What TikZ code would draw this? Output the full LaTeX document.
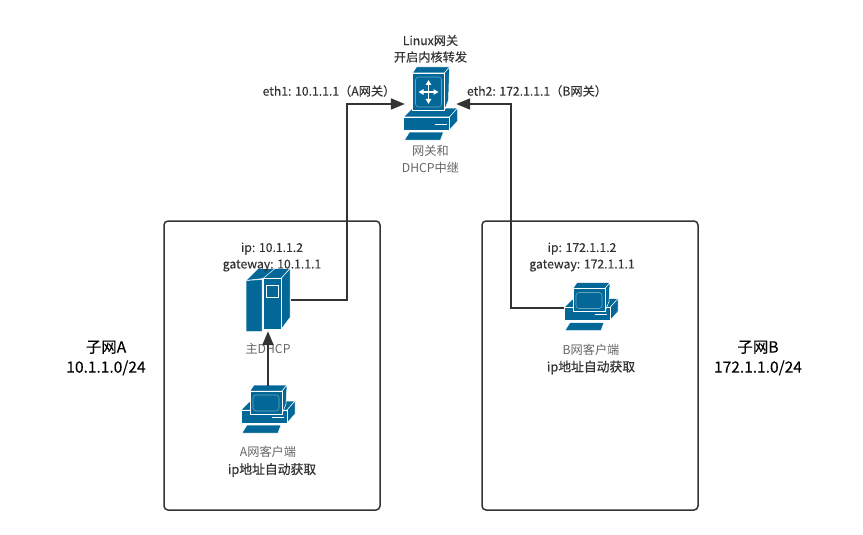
\documentclass[tikz,border=0pt]{standalone}
\usepackage{fontspec}
\setmainfont{Noto Sans CJK SC}
\usetikzlibrary{positioning,arrows.meta}

\definecolor{iconblue}{HTML}{036897}
\definecolor{linedark}{HTML}{333333}
\definecolor{textlight}{HTML}{666666}

\begin{document}
\begin{tikzpicture}[
  x=1pt, y=-1pt,
  subnetbox/.style={draw=linedark, line width=1.5pt, rounded corners=4pt},
  iconbox/.style={inner sep=0, minimum width=#1},
  iconbox/.default=46pt,
  darktext/.style={text=linedark, align=center, inner sep=0, font=\fontsize{12.2}{16.5}\selectfont\addfontfeature{FakeBold=0.25}},
  boldtext/.style={text=linedark, align=center, inner sep=0, font=\fontsize{12.8}{16.5}\selectfont\addfontfeature{FakeBold=0.6}},
  lighttext/.style={text=textlight, align=center, inner sep=0, font=\fontsize{12.2}{16.5}\selectfont},
  subnettext/.style={text=black, align=center, inner sep=0, font=\fontsize{15.5}{20}\selectfont\addfontfeature{FakeBold=0.25}},
  link/.style={draw=linedark, line width=2pt, -{Triangle[length=14pt, width=11pt]}},
  face/.style={fill=iconblue, draw=white, line width=0.5pt, line join=round},
  pics/desk/.style={code={
    % base and keyboard
    \draw[face] (-27,#1+13) -- (-19,#1+5) -- (27,#1+4) -- (19,#1+13) -- cycle;
    \draw[face] (19,#1+13) -- (27,#1+4) -- (27,#1+17) -- (19,#1+26) -- cycle;
    \draw[face] (-27,#1+13) rectangle (19,#1+26);
    \draw[face] (-21,#1+28) -- (13,#1+28) -- (10,#1+36) -- (-26,#1+36) -- cycle;
    \draw[white, line width=0.8pt] (4,#1+20) -- (16,#1+20);
  }},
  pics/screen/.style 2 args={code={
    % monitor from top y=#1 to bottom y=#2
    \draw[face] (-18,#1) -- (-14,#1-6) -- (19,#1-6) -- (14,#1) -- cycle;
    \draw[face] (14,#1) -- (19,#1-6) -- (18,#2-10) -- (14,#2) -- cycle;
    \draw[face] (-18,#1) rectangle (14,#2);
    \draw[white!40!iconblue, line width=0.6pt, rounded corners=3pt] (-15,#1+4) rectangle (11,#2-3);
  }},
  pics/rack/.style={code={
    \draw[face] (-22,-19) -- (-10,-31) -- (22,-31) -- (13,-21) -- (-5,-21) -- cycle;
    \draw[face] (13,-21) -- (22,-31) -- (22,18) -- (13,30) -- cycle;
    \draw[face] (-22,-19) -- (-6,-20) -- (-6,32) -- (-22,32) -- cycle;
    \draw[face] (-5,-21) rectangle (13,30);
    \draw[white, line width=0.5pt] (-5,-21) -- (7,-31);
    \draw[white, line width=0.8pt] (-2,-14) rectangle (10,-2);
  }},
  pics/routermark/.style={code={
    \draw[white, line width=1.3pt, {Triangle[length=5pt, width=5.5pt]}-{Triangle[length=5pt, width=5.5pt]}] (-2,-24) -- (-2,0);
    \draw[white, line width=1.3pt, {Triangle[length=5pt, width=5.5pt]}-{Triangle[length=5pt, width=5.5pt]}] (-12,-12) -- (8,-12);
  }}
]

    \useasboundingbox (0,0) rectangle (863,535);

    \draw[subnetbox] (164,221) rectangle (380,510);
    \draw[subnetbox] (482,221) rectangle (698,510);

    % icons
    \node[iconbox=51pt, minimum height=74pt] (gw) at (430.5,104) {};
    \node[iconbox=45pt, minimum height=63pt] (dhcp) at (268,299.5) {};
    \node[iconbox=54pt, minimum height=48pt] (clientA) at (268,410) {};
    \node[iconbox=54pt, minimum height=48pt] (clientB) at (591,307.5) {};

    \pic at (gw) {desk=0};
    \pic at (gw) {screen={-31}{6}};
    \pic at (gw) {routermark};
    \pic at (dhcp) {rack};
    \pic at (clientA) {desk=-13};
    \pic at (clientA) {screen={-19}{4}};
    \pic at (clientB) {desk=-13};
    \pic at (clientB) {screen={-19}{4}};

    % labels
    \node[darktext, above=4pt of gw] (gwTitle) {Linux网关\\开启内核转发};
    \node[lighttext, below=4pt of gw] (gwName) {网关和\\DHCP中继};
    \node[darktext] (eth1) at (329,91) {eth1: 10.1.1.1（A网关）};
    \node[darktext] (eth2) at (537,91) {eth2: 172.1.1.1（B网关）};

    \node[darktext] (dhcpAddr) at (272,257) {ip: 10.1.1.2\\gateway: 10.1.1.1};
    \node[lighttext] (dhcpName) at (268,349) {主DHCP};
    \node[lighttext, below=12pt of clientA] (clientAName) {A网客户端};
    \node[boldtext, below=5pt of clientAName, xshift=4pt] (clientAAuto) {ip地址自动获取};

    \node[darktext] (clientBAddr) at (582,257) {ip: 172.1.1.2\\gateway: 172.1.1.1};
    \node[lighttext, below=12pt of clientB] (clientBName) {B网客户端};
    \node[boldtext, below=5pt of clientBName] (clientBAuto) {ip地址自动获取};

    \node[subnettext] (subnetA) at (106,358) {子网A\\10.1.1.0/24};
    \node[subnettext] (subnetB) at (758,358) {子网B\\172.1.1.0/24};

    % links
    \coordinate (bendA) at (347,104);
    \coordinate (bendB) at (511,104);
    \draw[link] (clientA) -- (dhcp);
    \draw[link] (dhcp.east) -| (bendA) -- (gw.west);
    \draw[link] (clientB.west) -| (bendB) -- (gw.east);
\end{tikzpicture}
\end{document}
